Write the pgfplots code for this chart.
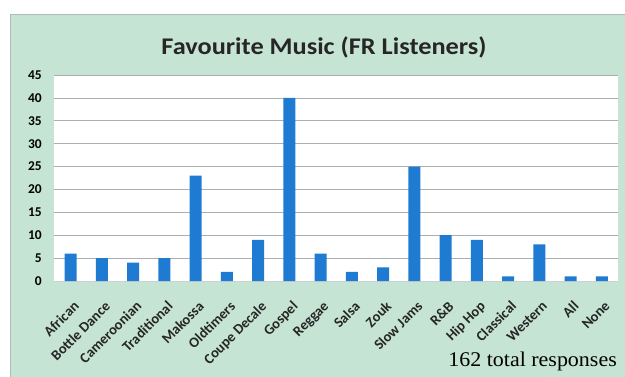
\documentclass[border=0pt]{standalone}
\usepackage{pgfplots}
\pgfplotsset{compat=1.18}
\usepackage{fontspec}
\setmainfont{Carlito}
\newfontfamily\serifnum{Liberation Serif}
\definecolor{panel}{HTML}{C6E4D4}
\definecolor{bar}{HTML}{1F7BD2}
\definecolor{gridc}{HTML}{A8B0B4}
\begin{document}
\begin{tikzpicture}[x=1bp,y=1bp]
\path[use as bounding box, fill=white] (0,0) rectangle (625,376);
\fill[panel, draw=gridc!80!panel, line width=0.8bp] (10,-2) rectangle (627,362);
\node[font=\bfseries\fontsize{24}{28}\selectfont, text=black!85, xscale=1.1, anchor=base] at (324,322) {Favourite Music (FR Listeners)};
\node[font=\serifnum\fontsize{21}{24}\selectfont, anchor=base east, xscale=1.05, inner sep=0pt] at (617,10) {162 total responses};
\begin{axis}[
  at={(54bp,95bp)}, anchor=south west,
  scale only axis, width=564bp, height=206bp,
  axis background/.style={fill=white},
  xmin=-0.535, xmax=17.52,
  ymin=0, ymax=45,
  ytick={0,5,...,45},
  ymajorgrids, grid style={gridc, line width=0.6bp},
  axis line style={draw=gridc!60, line width=0.6bp},
  axis x line*=bottom, axis y line*=left,
  y axis line style={draw=none},
  xtick={0,...,17},
  xticklabels={African,Bottle Dance,Cameroonian,Traditional,Makossa,Oldtimers,Coupe Decale,Gospel,Reggae,Salsa,Zouk,Slow Jams,R\&B,Hip Hop,Classical,Western,All,None},
  x tick label style={xshift=2bp, yshift=-19bp, rotate=45, anchor=north east, font=\bfseries\fontsize{14.5}{15}\selectfont, text=black!85, inner sep=0pt},
  y tick label style={font=\bfseries\fontsize{13.5}{14}\selectfont, anchor=east, inner sep=0pt},
  yticklabel style={xshift=-12bp},
  /pgf/number format/assume math mode=true,
  major tick length=0pt,
  ybar, bar width=12bp,
]
\addplot[fill=bar, draw=none] coordinates {
(0,6) (1,5) (2,4) (3,5) (4,23) (5,2) (6,9) (7,40) (8,6) (9,2) (10,3) (11,25) (12,10) (13,9) (14,1) (15,8) (16,1) (17,1)};
\end{axis}
\end{tikzpicture}
\end{document}
